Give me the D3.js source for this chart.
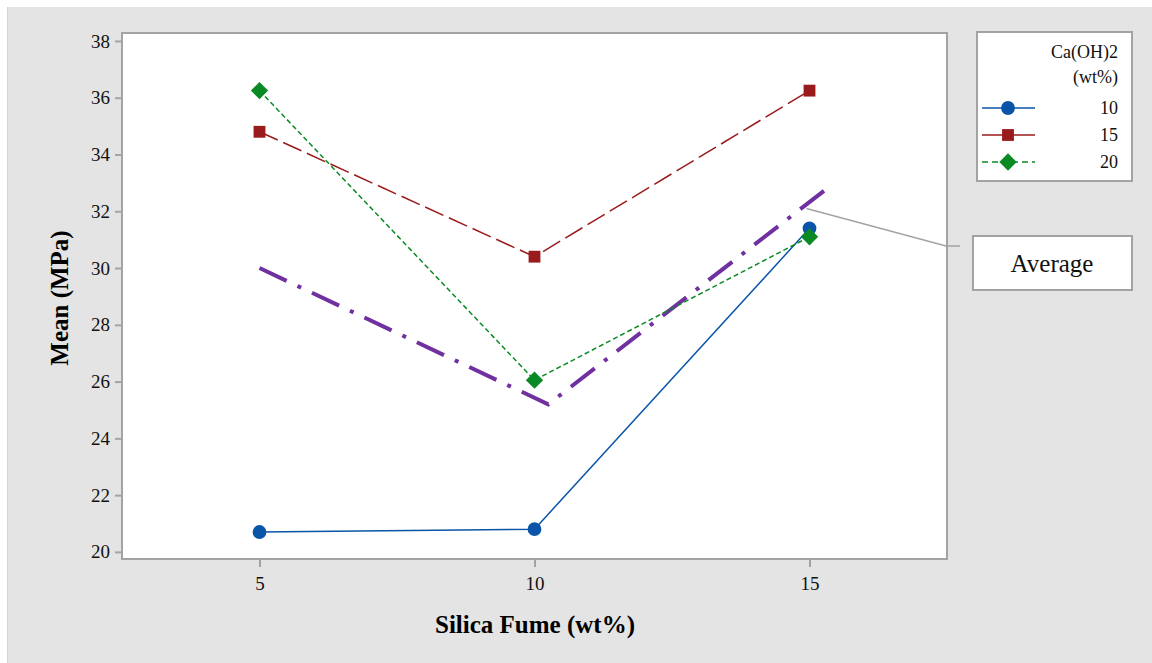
<!DOCTYPE html>
<html><head><meta charset="utf-8">
<script src="https://cdn.jsdelivr.net/npm/d3@7"></script>
<style>body{margin:0;background:#fff;}svg{display:block;} text{font-family:"Liberation Serif","Times New Roman",Times,"DejaVu Serif",serif;}</style>
</head><body>
<svg id="c" width="1152" height="663"></svg>
<script>
const silicaFume = [5, 10, 15];
const groups = ["10", "15", "20"];
const mean10 = [20.7, 20.8, 31.4];
const mean15 = [34.8, 30.4, 36.25];
const mean20 = [36.25, 26.05, 31.1];
const avgX = [5, 10.25, 15.35];
const avgY = [30.0, 25.2, 32.85];
const yTicks = [20, 22, 24, 26, 28, 30, 32, 34, 36, 38];
const xTicks = [5, 10, 15];

const svg = d3.select("#c");
const serif = '"Liberation Serif","Times New Roman",Times,"DejaVu Serif",serif';
svg.append("rect").attr("x",7).attr("y",7).attr("width",1145).attr("height",656).attr("fill","#e4e4e4");
svg.append("line").attr("x1",7.5).attr("x2",7.5).attr("y1",7).attr("y2",663).attr("stroke","#d4d4d4");

const L=122, R=947, T=33, B=559;
const x = d3.scaleLinear().domain([2.5,17.5]).range([L,R]);
const y = d3.scaleLinear().domain([19.75,38.28]).range([B,T]);

svg.append("rect").attr("x",L).attr("y",T).attr("width",R-L).attr("height",B-T)
  .attr("fill","#fff").attr("stroke","#a3a3a3").attr("stroke-width",2);

const yAxis = svg.append("g").attr("transform",`translate(${L-1},0)`)
  .call(d3.axisLeft(y).tickValues(yTicks).tickSize(6).tickPadding(5).tickFormat(d3.format("d")));
const xAxis = svg.append("g").attr("transform",`translate(0,${B+1})`)
  .call(d3.axisBottom(x).tickValues(xTicks).tickSize(7).tickPadding(6).tickFormat(d3.format("d")));
[yAxis,xAxis].forEach(a=>{
  a.attr("font-family",serif).attr("font-size",18);
  a.select(".domain").remove();
  a.selectAll(".tick line").attr("stroke","#a3a3a3").attr("stroke-width",2);
  a.selectAll(".tick text").style("font-family",serif).attr("font-size",19).attr("fill","#111");
});
xAxis.selectAll(".tick text").attr("dy","0.9em");

svg.append("text").attr("transform","translate(68,298) rotate(-90)").attr("text-anchor","middle")
  .style("font-family",serif).attr("font-weight","bold").attr("font-size",25).text("Mean (MPa)");
svg.append("text").attr("x",535).attr("y",633).attr("text-anchor","middle")
  .style("font-family",serif).attr("font-weight","bold").attr("font-size",25).text("Silica Fume (wt%)");

const series = [
  {name:groups[0], vals:mean10, color:"#0a55a8", dash:null, shape:d3.symbolCircle, size:150, rot:0},
  {name:groups[1], vals:mean15, color:"#991b1b", dash:"20,6", shape:d3.symbolSquare, size:140, rot:0},
  {name:groups[2], vals:mean20, color:"#0a8a24", dash:"5,3", shape:d3.symbolSquare, size:150, rot:45},
];
const line = d3.line().x(d=>x(d[0])).y(d=>y(d[1]));

// average annotation line
const avgPts = avgX.map((v,i)=>[v,avgY[i]]);
svg.append("path").attr("d",line(avgPts)).attr("fill","none").attr("stroke","#7030a0")
  .attr("stroke-width",4).attr("stroke-dasharray","30,12,4,12");

series.forEach(s=>{
  const pts = silicaFume.map((v,i)=>[v,s.vals[i]]);
  svg.append("path").attr("d",line(pts)).attr("fill","none").attr("stroke",s.color)
    .attr("stroke-width",1.5).attr("stroke-dasharray",s.dash);
  svg.selectAll(null).data(pts).enter().append("path")
    .attr("d",d3.symbol().type(s.shape).size(s.size))
    .attr("transform",d=>`translate(${x(d[0])},${y(d[1])}) rotate(${s.rot})`).attr("fill",s.color);
});

// callout
svg.append("polyline").attr("points",`${x(15)-3},${y(32.1)} 946,246 960,246`).attr("fill","none")
  .attr("stroke","#a3a3a3").attr("stroke-width",1.5);
svg.append("rect").attr("x",973).attr("y",236).attr("width",159).attr("height",54)
  .attr("fill","#fff").attr("stroke","#a3a3a3").attr("stroke-width",2);
svg.append("text").attr("x",1052).attr("y",272).attr("text-anchor","middle")
  .style("font-family",serif).attr("font-size",25).attr("fill","#111").text("Average");

// legend
svg.append("rect").attr("x",977).attr("y",32).attr("width",155).attr("height",149)
  .attr("fill","#fff").attr("stroke","#a3a3a3").attr("stroke-width",2);
svg.append("text").attr("x",1118).attr("y",58).attr("text-anchor","end").style("font-family",serif)
  .attr("font-size",18).attr("fill","#111").text("Ca(OH)2");
svg.append("text").attr("x",1118).attr("y",83).attr("text-anchor","end").style("font-family",serif)
  .attr("font-size",18).attr("fill","#111").text("(wt%)");
series.forEach((s,i)=>{
  const yy = 108 + i*27;
  svg.append("line").attr("x1",982).attr("x2",1035).attr("y1",yy).attr("y2",yy)
    .attr("stroke",s.color).attr("stroke-width",1.5).attr("stroke-dasharray",i==2?"6,4":null);
  svg.append("path").attr("d",d3.symbol().type(s.shape).size(s.size)).attr("transform",`translate(1008,${yy}) rotate(${s.rot})`).attr("fill",s.color);
  svg.append("text").attr("x",1118).attr("y",yy+6).attr("text-anchor","end").style("font-family",serif)
    .attr("font-size",18).attr("fill","#111").text(s.name);
});
</script>
</body></html>
